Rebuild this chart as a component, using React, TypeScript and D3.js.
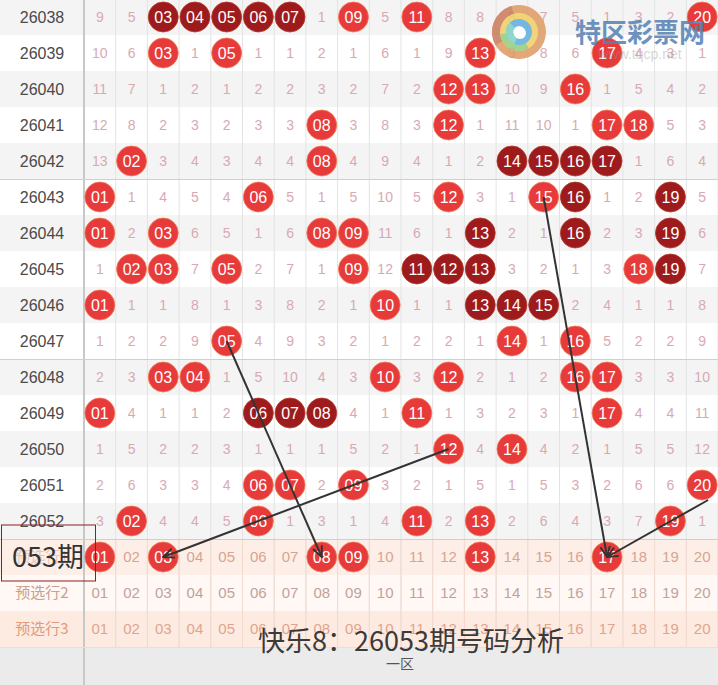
import React from "react";
import * as d3 from "d3";

const W = 718;
const H = 685;

const issues = ["26038","26039","26040","26041","26042","26043","26044","26045","26046","26047","26048","26049","26050","26051","26052"];
const numbers = d3.range(1, 21);

// 0 = drawn that period, otherwise omission count
const omission: number[][] = [
  [9,5,0,0,0,0,0,1,0,5,0,8,8,8,7,5,1,3,2,0],
  [10,6,0,1,0,1,1,2,1,6,1,9,0,9,8,6,0,4,3,1],
  [11,7,1,2,1,2,2,3,2,7,2,0,0,10,9,0,1,5,4,2],
  [12,8,2,3,2,3,3,0,3,8,3,0,1,11,10,1,0,0,5,3],
  [13,0,3,4,3,4,4,0,4,9,4,1,2,0,0,0,0,1,6,4],
  [0,1,4,5,4,0,5,1,5,10,5,0,3,1,0,0,1,2,0,5],
  [0,2,0,6,5,1,6,0,0,11,6,1,0,2,1,0,2,3,0,6],
  [1,0,0,7,0,2,7,1,0,12,0,0,0,3,2,1,3,0,0,7],
  [0,1,1,8,1,3,8,2,1,0,1,1,0,0,0,2,4,1,1,8],
  [1,2,2,9,0,4,9,3,2,1,2,2,1,0,1,0,5,2,2,9],
  [2,3,0,0,1,5,10,4,3,0,3,0,2,1,2,0,0,3,3,10],
  [0,4,1,1,2,0,0,0,4,1,0,1,3,2,3,1,0,4,4,11],
  [1,5,2,2,3,1,1,1,5,2,1,0,4,0,4,2,1,5,5,12],
  [2,6,3,3,4,0,0,2,0,3,2,1,5,1,5,3,2,6,6,0],
  [3,0,4,4,5,0,1,3,1,4,0,2,0,2,6,4,3,7,0,1],
];

const darkBalls: number[][] = [
  [3,4,5,6,7], [], [], [], [14,15,16,17],
  [16,19], [13,16,19], [11,12,13,19], [13,14,15], [],
  [], [6,7,8], [], [], [],
];

const predictIssue = "053期";
const predictPicks = [1, 3, 8, 9, 13, 17];
const preRowLabels = ["预选行1", "预选行2", "预选行3"];
const title = "快乐8：26053期号码分析";
const zoneLabel = "一区";

// arrows: from (issue, number) to predicted number
const arrows = [
  { fromIssue: "26047", fromNum: 5, toNum: 8, dx: 0, dy: 0 },
  { fromIssue: "26050", fromNum: 12, toNum: 3, dx: 0, dy: 0 },
  { fromIssue: "26043", fromNum: 15, toNum: 17, dx: 0, dy: 0 },
  { fromIssue: "26051", fromNum: 20, toNum: 17, dx: 6, dy: 15 },
];

const pad = (n: number) => (n < 10 ? "0" + n : String(n));

const LABEL_W = 84;
const ROW_KEYS = [...issues, "p1", "p2", "p3"];

export default function App() {
  const x = d3.scaleBand<number>().domain(numbers).range([LABEL_W, W]);
  const y = d3.scaleBand<string>().domain(ROW_KEYS).range([-1, -1 + 36 * ROW_KEYS.length]);
  const bw = x.bandwidth();
  const bh = y.bandwidth();
  const cx = (n: number) => (x(n) as number) + bw / 2;
  const cy = (k: string) => (y(k) as number) + bh / 2;
  const footerY = (y("p3") as number) + bh;

  const numFont = "'Liberation Sans', Arial, sans-serif";
  const cjkFont = "'Noto Sans CJK SC', 'Noto Sans', sans-serif";
  const lightBall = "#e63b3a";
  const darkBall = "#9e1b1d";
  const omitColor = "#d9a9b3";

  const preBg = ["#fdefe8", "#fff8f5", "#fdebe2"];
  const preNumColor = ["#d9a48e", "#bfa39b", "#e0a58f"];
  const preLabelColor = ["#d9a48e", "#c6a090", "#e09a7c"];

  const arc = d3.arc<any>();
  const swirlCx = 519, swirlCy = 32;
  const swirl = [
    { inner: 18, outer: 27, start: 0, end: 2 * Math.PI, color: "#de9a62" },
    { inner: 18, outer: 27, start: 4.2, end: 6.0, color: "#c97a5a" },
    { inner: 12, outer: 19, start: 0, end: 2 * Math.PI, color: "#f1cf63" },
    { inner: 12, outer: 19, start: 2.6, end: 4.6, color: "#93cc7a" },
    { inner: 6, outer: 13, start: 0, end: 2 * Math.PI, color: "#5eaede" },
    { inner: 6, outer: 13, start: 3.5, end: 5.5, color: "#7fd0c4" },
  ];

  return (
    <svg width={W} height={H} style={{ position: "absolute", left: 0, top: 0, background: "#fff" }}>
      <defs>
        <marker id="arrowHead" viewBox="0 0 10 10" refX="9" refY="5" markerWidth="6" markerHeight="6" orient="auto">
          <path d="M0,1 L9,5 L0,9" fill="none" stroke="#333" strokeWidth="1.6" />
        </marker>
      </defs>

      {/* row backgrounds */}
      {issues.map((k, i) => (
        <rect key={"bg" + k} x={0} y={y(k)} width={W} height={bh} fill={i % 2 === 0 ? "#f4f4f4" : "#ffffff"} />
      ))}
      {["p1", "p2", "p3"].map((k, i) => (
        <rect key={"bg" + k} x={0} y={y(k)} width={W} height={bh} fill={preBg[i]} />
      ))}
      <rect x={0} y={footerY} width={W} height={H - footerY} fill="#ebebeb" />

      {/* vertical grid */}
      {numbers.map((n) => (
        <line key={"v" + n} x1={(x(n) as number) + bw} x2={(x(n) as number) + bw} y1={0} y2={footerY}
          stroke="#e3e3e3" strokeWidth={1} />
      ))}
      {numbers.map((n) => (
        <line key={"vp" + n} x1={(x(n) as number) + bw} x2={(x(n) as number) + bw} y1={y("p1")} y2={footerY}
          stroke="#f4d9cd" strokeWidth={1} />
      ))}
      <line x1={LABEL_W} x2={LABEL_W} y1={0} y2={H} stroke="#c8c8c8" strokeWidth={2} />

      {/* group separators */}
      {[issues[5], issues[10], "p1"].map((k) => (
        <line key={"h" + k} x1={0} x2={W} y1={(y(k) as number) + 0.5} y2={(y(k) as number) + 0.5} stroke="#cfcfcf" strokeWidth={1} />
      ))}
      <line x1={0} x2={W} y1={footerY + 0.5} y2={footerY + 0.5} stroke="#e6e0dc" strokeWidth={1} />

      {/* issue labels */}
      {issues.map((k) => (
        <text key={"l" + k} x={LABEL_W / 2} y={cy(k)} dy="0.35em" textAnchor="middle"
          fontFamily={numFont} fontSize={16} fill="#4a4a4a">{k}</text>
      ))}

      {/* cells */}
      {issues.map((k, i) =>
        numbers.map((n, j) => {
          const v = omission[i][j];
          if (v !== 0) {
            return (
              <text key={k + "-" + n} x={cx(n)} y={cy(k)} dy="0.35em" textAnchor="middle"
                fontFamily={numFont} fontSize={14} fill={omitColor}>{v}</text>
            );
          }
          const dark = darkBalls[i].includes(n);
          return (
            <g key={k + "-" + n}>
              <circle cx={cx(n)} cy={cy(k)} r={15} fill={dark ? darkBall : lightBall}
                stroke={dark ? "#b33a2a" : "#f07a55"} strokeWidth={0.8} />
              <text x={cx(n)} y={cy(k)} dy="0.36em" textAnchor="middle" fontFamily={numFont}
                fontSize={16} fill="#fff">{pad(n)}</text>
            </g>
          );
        })
      )}

      {/* preselect rows */}
      {["p1", "p2", "p3"].map((k, ri) => (
        <g key={"pre" + k}>
          <text x={LABEL_W / 2} y={cy(k)} dy="0.35em" textAnchor="middle" fontFamily={cjkFont}
            fontSize={15} fill={preLabelColor[ri]} opacity={ri === 0 ? 0.55 : 1}>{preRowLabels[ri]}</text>
          {numbers.map((n) => {
            const picked = ri === 0 && predictPicks.includes(n);
            if (picked) {
              return (
                <g key={k + n}>
                  <circle cx={cx(n)} cy={cy(k)} r={15} fill={lightBall} stroke="#f07a55" strokeWidth={0.8} />
                  <text x={cx(n)} y={cy(k)} dy="0.36em" textAnchor="middle" fontFamily={numFont}
                    fontSize={16} fill="#fff">{pad(n)}</text>
                </g>
              );
            }
            return (
              <text key={k + n} x={cx(n)} y={cy(k)} dy="0.35em" textAnchor="middle" fontFamily={numFont}
                fontSize={15} fill={preNumColor[ri]}>{pad(n)}</text>
            );
          })}
        </g>
      ))}

      {/* arrows */}
      {arrows.map((a, i) => (
        <line key={"a" + i} x1={cx(a.fromNum) + a.dx} y1={cy(a.fromIssue) + a.dy} x2={cx(a.toNum)} y2={cy("p1")}
          stroke="#333" strokeWidth={2} markerEnd="url(#arrowHead)" />
      ))}

      {/* predicted issue box */}
      <rect x={1.5} y={(y("p1") as number) - 14} width={94} height={56} fill="none" stroke="#8b1f1f" strokeWidth={1} />
      <text x={12} y={cy("p1")} dy="0.36em" fontFamily={cjkFont} fontSize={27} fill="#333">{predictIssue}</text>

      {/* watermark */}
      <g opacity={0.85}>
        {swirl.map((s, i) => (
          <path key={"sw" + i} transform={`translate(${swirlCx},${swirlCy})`}
            d={arc({ innerRadius: s.inner, outerRadius: s.outer, startAngle: s.start, endAngle: s.end }) as string}
            fill={s.color} />
        ))}
        <circle cx={swirlCx + 1} cy={swirlCy + 1} r={6} fill="#ffffff" />
        <text x={640} y={33} dy="0.36em" textAnchor="middle" fontFamily={cjkFont} fontWeight="bold"
          fontSize={26} fill="#5580b3">特区彩票网</text>
        <text x={640} y={54} dy="0.35em" textAnchor="middle" fontFamily={numFont}
          fontSize={14} fill="#999" opacity={0.45}>www.tqcp.net</text>
      </g>

      {/* title & zone */}
      <text x={411} y={641} dy="0.36em" textAnchor="middle" fontFamily={cjkFont} fontSize={27} fill="#3a3a3a">{title}</text>
      <text x={400} y={664} dy="0.35em" textAnchor="middle" fontFamily={cjkFont} fontSize={14} fill="#555">{zoneLabel}</text>
    </svg>
  );
}
